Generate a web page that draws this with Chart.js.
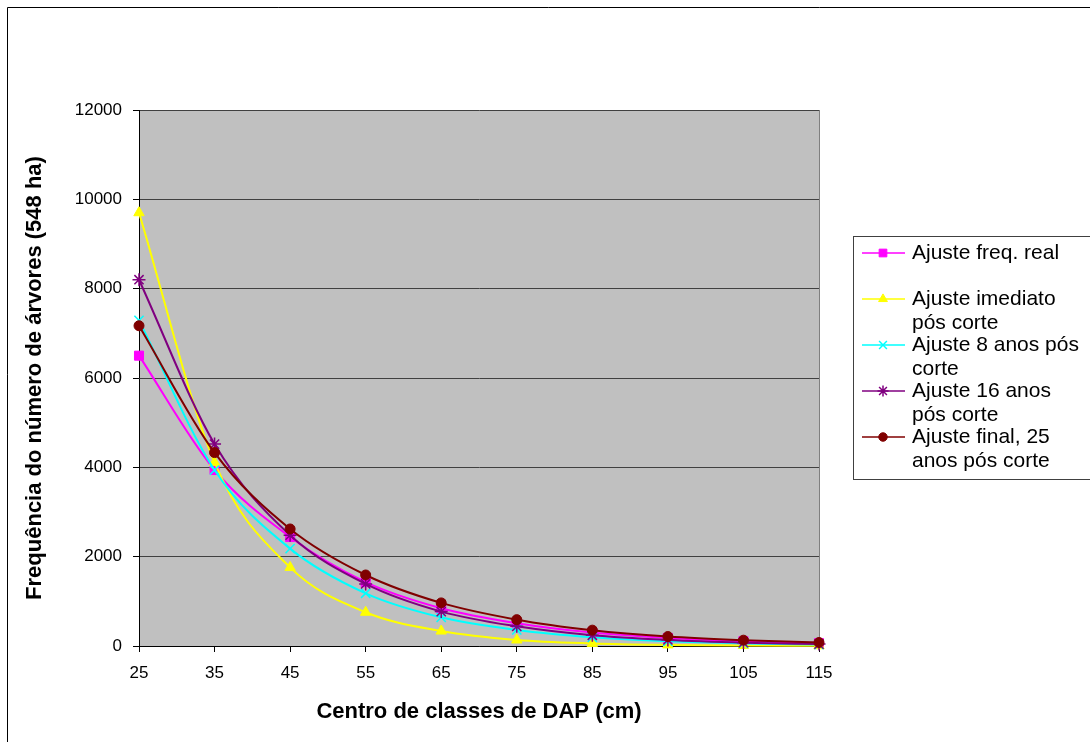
<!DOCTYPE html>
<html>
<head>
<meta charset="utf-8">
<script src="https://cdn.jsdelivr.net/npm/chart.js@4.4.1/dist/chart.umd.min.js"></script>
<style>
  html, body { margin: 0; padding: 0; background: #ffffff; }
  #wrap { width: 1090px; height: 742px; }
</style>
</head>
<body>
<div id="wrap"><canvas id="dapChart" width="1090" height="742"></canvas></div>
<script>
// Centro de classes de DAP (cm)
const dapClasses = [25, 35, 45, 55, 65, 75, 85, 95, 105, 115];
const xTickLabels = ["25", "35", "45", "55", "65", "75", "85", "95", "105", "115"];

const seriesNames = [
  "Ajuste freq. real",
  "Ajuste imediato pós corte",
  "Ajuste 8 anos pós corte",
  "Ajuste 16 anos pós corte",
  "Ajuste final, 25 anos pós corte"
];

// valores (árvores, 548 ha)
const freqReal      = [6500, 3940, 2440, 1430, 845, 510, 300, 180, 108, 65];
const imediato      = [9700, 4110, 1760, 755, 335, 135, 58, 25, 11, 5];
const oitoAnos      = [7290, 3940, 2180, 1180, 642, 360, 195, 105, 57, 31];
const dezesseisAnos = [8200, 4520, 2480, 1390, 770, 440, 240, 135, 75, 42];
const finalAnos     = [7170, 4330, 2620, 1590, 965, 590, 355, 212, 130, 78];

const FONT = "'Liberation Sans', Arial, Helvetica, sans-serif";

function toPoints(values) {
  return values.map((v, i) => ({ x: dapClasses[i], y: v }));
}

function makeSeries(idx, values, color, style, radius, order) {
  return {
    label: seriesNames[idx],
    data: toPoints(values),
    borderColor: color,
    backgroundColor: color,
    borderWidth: 2,
    pointStyle: style,
    pointRadius: radius,
    pointBorderWidth: style === "crossRot" || style === "star" ? 1.5 : 1,
    pointBorderColor: color,
    pointBackgroundColor: color,
    cubicInterpolationMode: "monotone",
    clip: false,
    order
  };
}

const datasets = [
  makeSeries(0, freqReal, "#ff00ff", "rect", 6.4, 5),
  makeSeries(1, imediato, "#ffff00", "triangle", 6, 4),
  makeSeries(2, oitoAnos, "#00ffff", "crossRot", 6.5, 3),
  makeSeries(3, dezesseisAnos, "#800080", "star", 6.5, 2),
  makeSeries(4, finalAnos, "#800000", "circle", 5, 1)
];

function wrapText(ctx, text, maxWidth) {
  const words = text.split(" ");
  const lines = [];
  let line = "";
  words.forEach((w) => {
    const test = line ? line + " " + w : w;
    if (line && ctx.measureText(test).width > maxWidth) {
      lines.push(line);
      line = w;
    } else {
      line = test;
    }
  });
  if (line) lines.push(line);
  return lines;
}

// fundo cinza da área do gráfico, moldura externa e legenda
const frameAndLegend = {
  id: "frameAndLegend",
  beforeDraw(chart) {
    const { ctx, chartArea } = chart;
    ctx.save();
    ctx.fillStyle = "#c0c0c0";
    ctx.fillRect(chartArea.left, chartArea.top, chartArea.right - chartArea.left, chartArea.bottom - chartArea.top);
    ctx.strokeStyle = "#808080";
    ctx.lineWidth = 1;
    ctx.beginPath();
    ctx.moveTo(Math.round(chartArea.right) + 0.5, chartArea.top);
    ctx.lineTo(Math.round(chartArea.right) + 0.5, chartArea.bottom);
    ctx.stroke();
    ctx.restore();
  },
  afterDraw(chart) {
    const { ctx } = chart;
    ctx.save();
    // moldura externa
    ctx.strokeStyle = "#000";
    ctx.lineWidth = 1;
    ctx.beginPath();
    ctx.moveTo(7.5, chart.height);
    ctx.lineTo(7.5, 7.5);
    ctx.lineTo(chart.width, 7.5);
    ctx.stroke();

    // legenda
    ctx.strokeStyle = "#404040";
    ctx.strokeRect(853.5, 236.5, 300, 243);
    ctx.font = "21px " + FONT;
    ctx.textBaseline = "middle";
    ctx.textAlign = "left";
    chart.data.datasets.forEach((ds, i) => {
      const y = 253 + i * 46;
      ctx.strokeStyle = ds.borderColor;
      ctx.lineWidth = 1.5;
      ctx.beginPath();
      ctx.moveTo(862, y);
      ctx.lineTo(905, y);
      ctx.stroke();
      ctx.fillStyle = ds.pointBackgroundColor;
      ctx.strokeStyle = ds.pointBorderColor;
      ctx.lineWidth = ds.pointBorderWidth;
      Chart.helpers.drawPoint(ctx, {
        pointStyle: ds.pointStyle,
        radius: ds.pointRadius * 0.85,
        rotation: 0,
        borderWidth: ds.pointBorderWidth
      }, 883, y);
      ctx.fillStyle = "#000";
      wrapText(ctx, ds.label, 172).forEach((ln, k) => {
        ctx.fillText(ln, 912, y + k * 24);
      });
    });
    ctx.restore();
  }
};

new Chart(document.getElementById("dapChart"), {
  type: "line",
  data: { datasets },
  options: {
    responsive: false,
    animation: false,
    layout: { padding: { top: 110, right: 271, bottom: 0, left: 0 } },
    plugins: {
      legend: { display: false },
      tooltip: { enabled: false }
    },
    scales: {
      x: {
        type: "linear",
        min: 25,
        max: 115,
        afterBuildTicks: (axis) => {
          axis.ticks = dapClasses.map((v) => ({ value: v }));
        },
        afterFit: (axis) => { axis.height = 96; },
        ticks: {
          color: "#000",
          font: { family: FONT, size: 17 },
          padding: 11,
          maxRotation: 0,
          autoSkip: false,
          callback: (value, index) => xTickLabels[index]
        },
        grid: {
          drawOnChartArea: false,
          drawTicks: true,
          tickLength: 6,
          tickColor: "#000"
        },
        border: { color: "#000", width: 1 },
        title: {
          display: true,
          text: "Centro de classes de DAP (cm)",
          color: "#000",
          font: { family: FONT, size: 22, weight: "bold" },
          padding: { top: 0, bottom: 17 }
        }
      },
      y: {
        min: 0,
        max: 12000,
        afterFit: (axis) => { axis.width = 139; },
        ticks: {
          stepSize: 2000,
          color: "#000",
          font: { family: FONT, size: 17 },
          padding: 11,
          callback: (value) => String(value)
        },
        grid: {
          color: "#404040",
          lineWidth: 1,
          tickLength: 6,
          tickColor: "#000"
        },
        border: { color: "#000", width: 1 },
        title: {
          display: true,
          text: "Frequência do número de árvores (548 ha)",
          color: "#000",
          font: { family: FONT, size: 22, weight: "bold" },
          padding: { top: 22, bottom: 0 }
        }
      }
    }
  },
  plugins: [frameAndLegend]
});
</script>
</body>
</html>
